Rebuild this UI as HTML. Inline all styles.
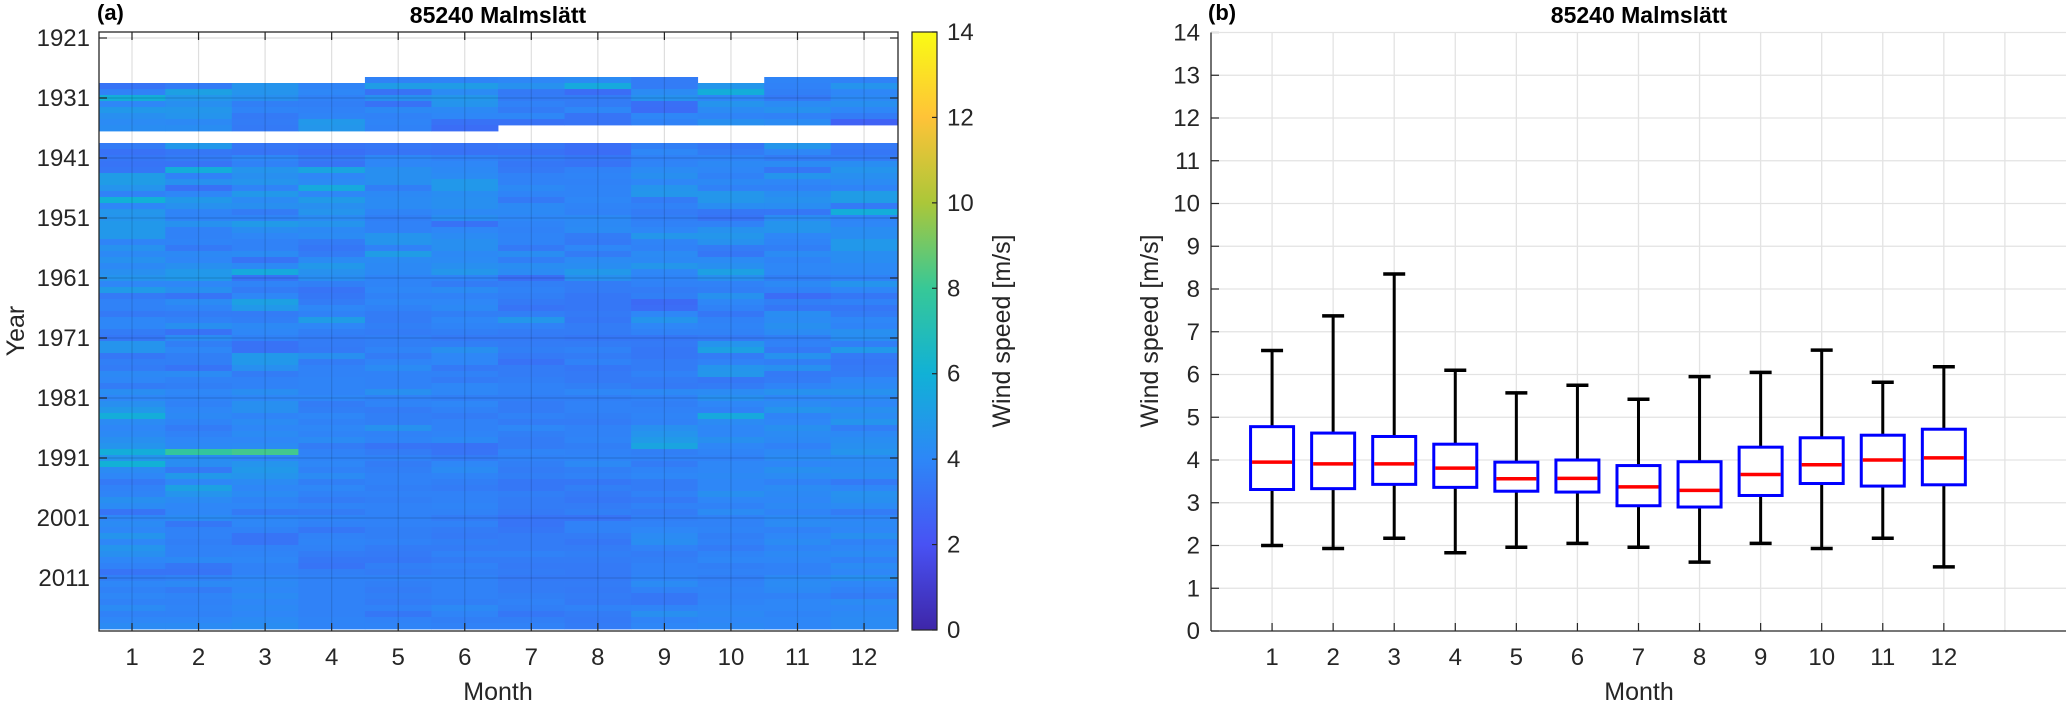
<!DOCTYPE html>
<html><head><meta charset="utf-8"><style>
html,body{margin:0;padding:0;background:#fff;}
svg{display:block;font-family:"Liberation Sans",sans-serif;}
</style></head><body>
<svg id="fig" width="2067" height="703" viewBox="0 0 2067 703">
<defs>
<linearGradient id="parula" x1="0" y1="1" x2="0" y2="0">
<stop offset="0" stop-color="#3e26a8"/><stop offset="0.1428" stop-color="#4852f4"/>
<stop offset="0.2857" stop-color="#2d87f7"/><stop offset="0.4286" stop-color="#11b1d6"/>
<stop offset="0.5714" stop-color="#37c897"/><stop offset="0.7143" stop-color="#abc739"/>
<stop offset="0.8571" stop-color="#fec338"/><stop offset="1" stop-color="#f9fb14"/>
</linearGradient>
</defs>
<g id="left"></g>
<g id="right"></g>
</svg>
<script>
const N = null;
const months = [1,2,3,4,5,6,7,8,9,10,11,12];
const yearTicks = [1921,1931,1941,1951,1961,1971,1981,1991,2001,2011];
const cbTicks = [0,2,4,6,8,10,12,14];
const firstYear = 1928;
const heatRows = [
[N,N,N,N,3.8,3.9,4.0,4.2,3.6,N,3.9,3.8],
[3.3,3.6,4.6,3.9,5.0,5.0,4.5,5.6,3.6,4.7,3.8,4.6],
[3.8,5.2,4.6,4.0,3.2,4.2,3.5,3.0,4.2,5.8,3.7,4.0],
[5.8,4.7,4.4,3.8,4.4,4.7,3.6,3.6,4.5,4.0,3.5,4.1],
[4.0,4.4,3.7,3.7,3.2,4.6,3.8,3.6,3.1,4.6,4.2,4.4],
[4.8,4.7,3.9,3.8,4.1,4.1,3.6,4.0,3.0,4.2,4.5,4.0],
[4.4,4.6,3.5,3.9,3.8,4.0,4.0,3.3,4.0,3.9,3.8,3.6],
[4.2,4.1,3.6,4.8,3.9,3.2,3.2,3.3,3.8,4.4,4.2,2.6],
[4.3,4.3,3.5,4.7,3.8,3.0,N,N,N,N,N,N],
[N,N,N,N,N,N,N,N,N,N,N,N],
[N,N,N,N,N,N,N,N,N,N,N,N],
[3.6,4.8,3.4,3.3,3.4,3.3,3.4,3.1,3.7,3.4,4.7,3.5],
[3.2,3.4,3.3,3.1,3.3,3.2,3.2,3.0,4.0,3.6,4.0,3.4],
[3.4,3.6,4.0,3.5,4.0,3.8,3.6,3.4,3.8,3.9,3.6,3.6],
[3.3,3.3,3.8,3.3,4.0,4.0,3.4,3.3,3.9,4.1,4.2,4.3],
[3.4,5.8,4.6,5.4,4.4,4.1,3.5,3.8,4.2,4.0,3.4,4.6],
[5.0,3.8,4.4,4.0,4.4,4.2,3.8,3.9,4.4,3.8,4.6,4.4],
[5.0,4.5,4.6,4.2,4.4,4.8,3.8,3.8,4.0,4.1,4.0,4.2],
[4.6,3.2,3.9,5.6,3.7,4.8,4.1,3.9,4.6,3.8,3.8,3.9],
[3.8,4.0,4.8,4.0,4.1,4.3,3.9,3.9,4.7,4.7,4.3,5.0],
[6.0,4.8,4.2,4.9,4.2,4.4,3.5,4.0,3.6,4.7,4.5,5.0],
[4.0,4.5,4.4,4.4,4.2,4.4,4.1,3.9,3.8,4.3,4.3,3.5],
[4.7,3.9,3.6,4.6,3.9,4.1,4.1,3.8,3.6,3.4,3.4,5.8],
[4.6,3.9,3.9,4.2,3.7,4.3,4.0,4.1,3.7,3.3,4.2,3.9],
[4.8,4.5,4.9,4.6,3.8,3.2,3.9,4.1,3.8,3.8,4.6,4.0],
[4.8,3.8,4.3,4.1,3.8,4.0,3.8,4.2,4.0,4.5,4.6,4.3],
[4.8,3.8,4.0,4.2,4.6,4.2,3.9,3.6,4.7,4.7,4.0,4.3],
[3.9,3.9,3.8,3.6,4.6,4.4,3.9,3.5,3.9,4.5,3.9,4.8],
[4.5,3.5,3.8,3.4,3.8,4.4,3.5,4.0,3.8,3.6,3.7,4.8],
[4.1,4.1,4.2,3.6,5.0,4.1,4.3,3.6,4.2,3.4,4.2,4.3],
[4.5,4.0,3.3,4.2,4.2,4.2,3.7,4.2,4.1,4.2,3.9,4.3],
[4.1,4.4,4.1,4.8,4.1,4.4,4.3,4.3,4.7,4.4,4.0,4.1],
[4.4,4.8,5.6,4.5,4.1,4.7,4.2,4.8,4.0,5.2,4.0,4.1],
[4.6,4.8,3.3,4.3,3.9,3.9,3.1,4.4,3.9,4.4,3.7,3.8],
[4.0,4.0,3.9,3.7,3.9,3.6,3.7,3.6,3.8,3.8,4.1,4.6],
[4.9,4.4,3.6,3.3,4.0,4.2,3.8,3.6,3.6,3.7,3.8,4.0],
[3.5,3.3,4.0,3.4,3.8,3.8,3.7,3.4,3.7,4.5,3.0,3.4],
[3.8,4.2,5.2,3.6,4.0,4.0,3.5,3.4,2.9,4.0,3.7,3.8],
[3.8,3.9,4.8,4.0,3.8,4.1,3.3,3.4,3.0,3.8,3.4,3.4],
[3.5,3.6,3.6,3.8,3.6,3.7,3.7,3.5,4.0,3.4,4.3,3.6],
[4.0,3.8,3.7,5.0,3.6,4.0,4.7,3.4,4.6,3.8,4.2,4.0],
[4.0,4.4,4.1,4.0,3.7,3.9,3.8,3.6,4.0,3.9,4.4,3.9],
[3.6,3.2,4.0,3.7,3.6,3.7,3.6,3.6,3.8,3.8,4.2,4.4],
[3.4,4.2,3.8,3.6,3.7,3.5,3.5,3.4,3.4,3.5,3.7,4.3],
[4.6,3.7,3.2,3.6,3.7,3.7,3.6,3.6,3.5,4.6,3.8,3.7],
[4.6,4.0,3.2,3.5,3.9,4.4,3.7,3.8,3.4,5.2,3.5,4.8],
[3.4,3.7,4.8,4.4,3.6,4.0,3.5,3.6,3.4,3.6,4.5,3.5],
[3.7,3.7,4.8,3.6,3.9,4.0,3.2,3.8,3.6,3.8,3.7,3.4],
[3.6,3.3,4.4,3.8,4.2,3.5,3.6,3.4,3.6,4.6,4.4,3.5],
[4.1,4.2,3.6,3.8,3.8,3.8,3.6,3.5,3.8,4.7,3.5,3.6],
[4.0,3.8,3.8,3.9,3.8,3.6,3.7,3.5,3.6,3.4,3.6,4.0],
[3.6,3.7,3.8,3.9,3.8,4.0,3.8,3.7,3.5,3.6,3.9,4.1],
[4.3,4.0,4.3,3.9,4.4,4.0,3.8,4.0,4.1,4.2,4.5,4.5],
[4.0,3.9,4.0,4.0,3.8,3.7,3.7,3.7,3.8,4.4,4.0,4.1],
[4.4,3.8,4.4,3.6,3.9,4.0,3.6,3.8,3.7,4.0,4.2,4.0],
[4.8,4.0,4.4,3.7,3.6,3.8,3.6,3.8,3.8,3.8,4.6,4.4],
[5.8,4.1,3.9,4.0,3.7,3.6,3.8,3.7,3.9,5.6,3.9,4.2],
[4.2,3.9,4.2,3.8,3.7,3.8,3.6,3.6,3.8,4.2,4.0,4.6],
[4.0,3.6,4.0,4.0,4.5,3.8,4.0,3.8,4.4,4.0,4.4,3.7],
[4.1,3.8,4.2,3.9,3.8,3.9,3.7,3.8,4.6,4.0,4.2,4.1],
[4.4,4.0,4.0,4.2,3.9,4.1,3.6,3.9,4.9,4.4,4.1,4.3],
[4.6,4.1,4.2,3.6,3.3,3.2,3.6,3.7,5.4,4.0,3.8,4.4],
[5.8,7.8,8.2,3.8,3.6,3.3,3.9,3.8,3.7,3.9,4.1,4.6],
[4.6,4.3,4.0,3.9,3.8,3.6,3.8,3.9,3.8,3.8,4.2,4.2],
[6.0,4.3,4.6,4.0,3.6,4.0,3.7,4.1,3.6,4.0,4.0,4.1],
[4.2,3.5,4.8,3.8,3.7,4.2,3.6,3.7,3.9,4.0,4.4,4.2],
[4.0,4.8,4.6,4.2,3.8,3.9,3.7,3.8,4.0,4.1,4.2,4.3],
[3.5,4.0,4.2,3.7,3.8,3.7,3.4,3.4,3.6,4.0,3.8,3.5],
[3.8,5.2,4.0,4.0,3.7,3.6,3.4,3.7,3.6,4.0,4.2,4.0],
[3.9,4.6,4.2,3.8,3.8,3.8,3.7,3.5,3.8,4.4,4.1,4.5],
[4.4,4.2,3.9,3.6,3.7,3.8,3.6,3.4,3.5,4.0,4.0,4.4],
[4.2,4.0,4.0,3.9,3.8,3.9,3.6,3.6,3.8,3.8,4.1,4.2],
[3.3,4.0,3.5,3.6,3.8,3.8,3.5,3.7,3.6,4.2,3.9,3.6],
[4.0,4.2,4.0,3.9,3.8,3.6,3.3,3.3,3.7,3.8,4.1,4.0],
[4.2,3.4,4.0,3.8,3.8,3.8,3.3,3.8,3.8,3.8,4.2,4.1],
[4.0,3.8,3.8,3.4,3.7,3.6,3.4,3.8,4.0,3.9,3.8,4.0],
[4.6,3.8,3.3,3.8,3.7,3.5,3.6,3.6,4.2,3.7,4.0,4.4],
[4.0,3.7,3.3,3.9,3.8,3.7,3.6,3.4,4.3,3.8,4.2,3.8],
[4.6,3.8,3.8,3.8,3.6,3.6,3.6,3.6,3.8,3.6,3.9,4.0],
[4.4,3.8,3.9,3.6,3.5,3.8,3.8,3.7,3.6,3.9,4.1,4.2],
[4.0,4.1,4.0,3.4,3.4,3.6,3.6,3.6,3.7,4.0,4.0,3.8],
[3.8,3.4,3.8,3.3,3.7,3.8,3.5,3.5,3.8,3.7,3.8,4.2],
[3.3,3.3,3.8,3.7,3.6,3.7,3.6,3.5,3.8,3.8,3.8,4.0],
[3.7,3.8,4.0,3.8,3.8,3.8,3.5,3.5,3.9,3.7,4.1,4.4],
[4.0,4.1,4.1,3.8,3.7,3.8,3.6,3.6,4.2,3.8,4.2,4.0],
[3.8,3.6,4.0,3.8,3.6,3.8,3.6,3.5,3.8,3.9,4.1,3.8],
[4.0,3.9,4.2,3.8,3.7,3.8,3.7,3.6,3.4,3.8,3.8,3.6],
[3.8,3.8,4.0,3.8,3.6,3.7,3.8,3.5,3.4,3.9,4.0,4.2],
[4.2,3.9,4.1,3.8,3.8,4.1,3.7,3.8,3.9,4.0,4.0,4.0],
[3.8,3.8,4.0,3.8,3.4,3.9,3.4,3.6,4.4,4.1,3.9,4.1],
[4.0,4.0,4.2,3.9,3.8,3.7,3.7,3.5,3.9,4.0,4.0,4.2],
[4.2,4.2,4.3,3.9,3.9,3.8,3.8,3.6,4.0,4.1,4.0,4.2]
];
const boxQ1 = [3.31,3.33,3.43,3.36,3.27,3.25,2.93,2.90,3.17,3.45,3.39,3.42];
const boxMed = [3.95,3.91,3.91,3.81,3.56,3.57,3.37,3.29,3.66,3.89,4.00,4.05];
const boxQ3 = [4.78,4.63,4.55,4.37,3.95,4.00,3.87,3.96,4.30,4.52,4.58,4.72];
const whiskLo = [2.00,1.93,2.17,1.83,1.96,2.05,1.96,1.61,2.05,1.93,2.17,1.50];
const whiskHi = [6.56,7.37,8.35,6.10,5.57,5.75,5.42,5.95,6.05,6.57,5.82,6.18];
const yTicksR = [0,1,2,3,4,5,6,7,8,9,10,11,12,13,14];

const NS = "http://www.w3.org/2000/svg";
function mk(parent, tag, attrs, text){const e=document.createElementNS(NS,tag);for(const k in attrs)e.setAttribute(k,attrs[k]);if(text!==undefined)e.textContent=text;parent.appendChild(e);return e;}
const parula=[[0.2422,0.1504,0.6603],[0.2810,0.3228,0.9579],[0.1786,0.5289,0.9682],[0.0689,0.6948,0.8394],[0.2161,0.7843,0.5923],[0.6720,0.7793,0.2227],[0.9970,0.7659,0.2199],[0.9769,0.9839,0.0805]];
function color(v){let t=Math.max(0,Math.min(1,v/14))*7;let i=Math.min(6,Math.floor(t));let f=t-i;const a=parula[i],b=parula[i+1];return "rgb("+[0,1,2].map(k=>Math.round(255*(a[k]+(b[k]-a[k])*f))).join(",")+")";}

const FS = 24;
// ---- Left heatmap ----
const L=document.getElementById('left');
const hx0=99,hx1=898,hy0=32,hy1=631;
const xM=m=>132+(m-1)*66.55;
const yY=yr=>38+(yr-1921)*6;
const cellW=66.55, cellH=6;
heatRows.forEach((row,ri)=>{const yr=firstYear+ri;row.forEach((v,mi)=>{if(v===null)return;
 const r=mk(L,'rect',{x:(xM(months[mi])-cellW/2).toFixed(2),y:(yY(yr)-cellH/2).toFixed(2),width:(cellW+0.4).toFixed(2),height:cellH+0.4,fill:color(v)});
 
 
});});
months.forEach(m=>{const g=mk(L,'line',{x1:xM(m),x2:xM(m),y1:hy0,y2:hy1,stroke:'rgba(0,0,0,0.13)','stroke-width':1.2});
 
 
 mk(L,'line',{x1:xM(m),x2:xM(m),y1:hy1,y2:hy1-8,stroke:'#262626','stroke-width':1.2});
 mk(L,'line',{x1:xM(m),x2:xM(m),y1:hy0,y2:hy0+8,stroke:'#262626','stroke-width':1.2});
 const t=mk(L,'text',{x:xM(m),y:665,'font-size':FS,'text-anchor':'middle',fill:'#262626'},m);
 
 
});
yearTicks.forEach(yr=>{const g=mk(L,'line',{x1:hx0,x2:hx1,y1:yY(yr),y2:yY(yr),stroke:'rgba(0,0,0,0.13)','stroke-width':1.2});
 
 
 mk(L,'line',{x1:hx0,x2:hx0+8,y1:yY(yr),y2:yY(yr),stroke:'#262626','stroke-width':1.2});
 mk(L,'line',{x1:hx1,x2:hx1-8,y1:yY(yr),y2:yY(yr),stroke:'#262626','stroke-width':1.2});
 const t=mk(L,'text',{x:90,y:yY(yr)+8,'font-size':FS,'text-anchor':'end',fill:'#262626'},yr);
 
 
});
let fr=mk(L,'rect',{x:hx0,y:hy0,width:hx1-hx0,height:hy1-hy0,fill:'none',stroke:'#262626','stroke-width':1.3});


let tt=mk(L,'text',{x:498,y:23,'font-size':23,'font-weight':'bold','text-anchor':'middle',fill:'#000'},'85240 Malmslätt');


tt=mk(L,'text',{x:97,y:20,'font-size':22,'font-weight':'bold',fill:'#000'},'(a)');


tt=mk(L,'text',{x:498,y:700,'font-size':25,'text-anchor':'middle',fill:'#262626'},'Month');


tt=mk(L,'text',{x:0,y:0,'font-size':25,'text-anchor':'middle',fill:'#262626',transform:'translate(24,331) rotate(-90)'},'Year');


// colorbar
const cx0=912,cx1=937,cy0=32,cy1=630;
let cb=mk(L,'rect',{x:cx0,y:cy0,width:cx1-cx0,height:cy1-cy0,fill:'url(#parula)',stroke:'#262626','stroke-width':1.2});


cbTicks.forEach(v=>{const y=cy1-(v/14)*(cy1-cy0);
 mk(L,'line',{x1:cx1,x2:cx1-5,y1:y,y2:y,stroke:'#262626','stroke-width':1.2});
 const t=mk(L,'text',{x:947,y:y+8,'font-size':FS,fill:'#262626'},v);
 
 
});
tt=mk(L,'text',{x:0,y:0,'font-size':25,'text-anchor':'middle',fill:'#262626',transform:'translate(1010,331) rotate(-90)'},'Wind speed [m/s]');



// ---- Right boxplot ----
const R=document.getElementById('right');
const rx0=1211,rx1=2066,ry0=32.5,ry1=631;
const xB=m=>1211+61.07*m;
const yV=v=>631-42.75*v;
yTicksR.forEach(v=>{if(v>0&&v<14){const g=mk(R,'line',{x1:rx0,x2:rx1,y1:yV(v),y2:yV(v),stroke:'#e3e3e3','stroke-width':1.3});
 
 }
 mk(R,'line',{x1:rx0,x2:rx0+8,y1:yV(v),y2:yV(v),stroke:'#262626','stroke-width':1.2});
 const t=mk(R,'text',{x:1200,y:yV(v)+8,'font-size':FS,'text-anchor':'end',fill:'#262626'},v);
 
 
});
for(let m=1;m<14;m++){const g=mk(R,'line',{x1:xB(m),x2:xB(m),y1:ry0,y2:ry1,stroke:'#e3e3e3','stroke-width':1.3});
 
 
}
mk(R,'line',{x1:rx0,x2:rx1,y1:ry0,y2:ry0,stroke:'#e3e3e3','stroke-width':1.3});
months.forEach((m,i)=>{const x=xB(m);
 mk(R,'line',{x1:x,x2:x,y1:ry1,y2:ry1-8,stroke:'#262626','stroke-width':1.2});
 const t=mk(R,'text',{x:x,y:665,'font-size':FS,'text-anchor':'middle',fill:'#262626'},m);
 
 
 const g=mk(R,'g',{});
 
 
 mk(g,'line',{x1:x,x2:x,y1:yV(whiskHi[i]),y2:yV(boxQ3[i]),stroke:'#000','stroke-width':3});
 mk(g,'line',{x1:x,x2:x,y1:yV(boxQ1[i]),y2:yV(whiskLo[i]),stroke:'#000','stroke-width':3});
 mk(g,'line',{x1:x-11,x2:x+11,y1:yV(whiskHi[i]),y2:yV(whiskHi[i]),stroke:'#000','stroke-width':3.5});
 mk(g,'line',{x1:x-11,x2:x+11,y1:yV(whiskLo[i]),y2:yV(whiskLo[i]),stroke:'#000','stroke-width':3.5});
 mk(g,'rect',{x:x-21.5,y:yV(boxQ3[i]),width:43,height:yV(boxQ1[i])-yV(boxQ3[i]),fill:'#fff',stroke:'#0000ff','stroke-width':3});
 mk(g,'line',{x1:x-20,x2:x+20,y1:yV(boxMed[i]),y2:yV(boxMed[i]),stroke:'#ff0000','stroke-width':3.5});
});
mk(R,'line',{x1:rx0,x2:rx0,y1:ry0,y2:ry1,stroke:'#262626','stroke-width':1.3});
let ax=mk(R,'line',{x1:rx0,x2:rx1,y1:ry1,y2:ry1,stroke:'#262626','stroke-width':1.3});


tt=mk(R,'text',{x:1639,y:23,'font-size':23,'font-weight':'bold','text-anchor':'middle',fill:'#000'},'85240 Malmslätt');


tt=mk(R,'text',{x:1208,y:20,'font-size':22,'font-weight':'bold',fill:'#000'},'(b)');


tt=mk(R,'text',{x:1639,y:700,'font-size':25,'text-anchor':'middle',fill:'#262626'},'Month');


tt=mk(R,'text',{x:0,y:0,'font-size':25,'text-anchor':'middle',fill:'#262626',transform:'translate(1158,331) rotate(-90)'},'Wind speed [m/s]');


</script>
</body></html>
